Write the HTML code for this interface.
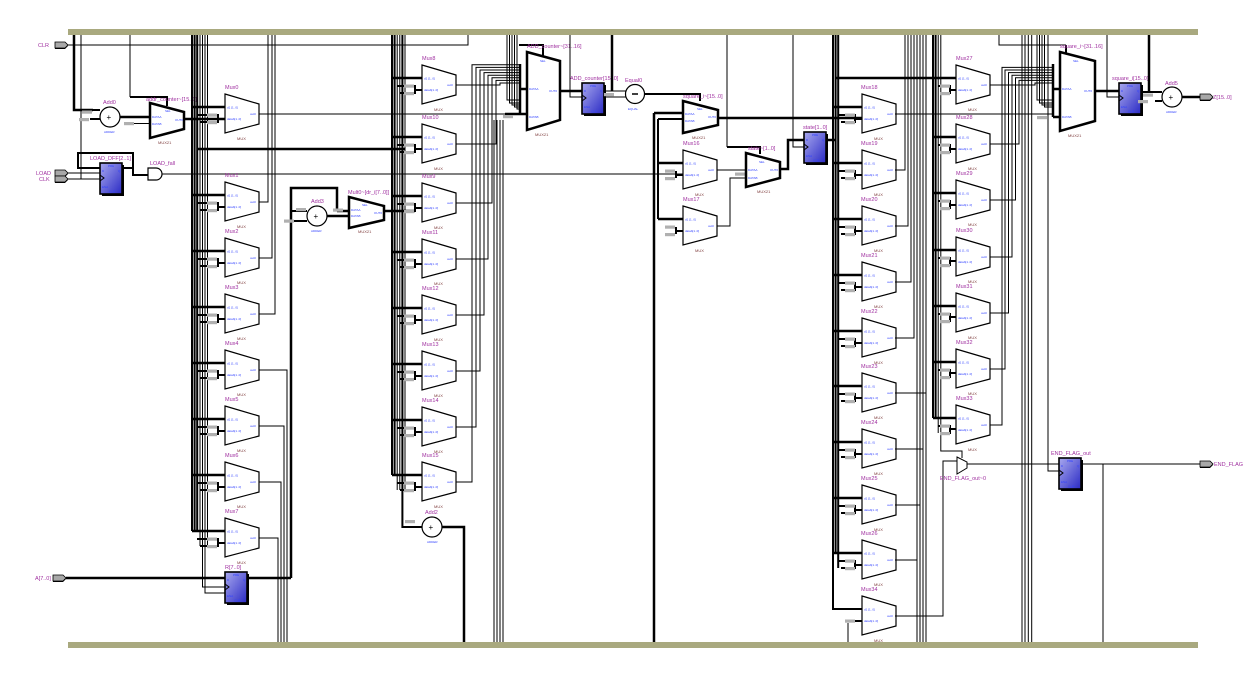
<!DOCTYPE html>
<html><head><meta charset="utf-8"><style>
html,body{margin:0;padding:0;background:#fff;}
svg{display:block}
.t{stroke:#000;stroke-width:2.5;fill:none}
.m{stroke:#000;stroke-width:2;fill:none}
.n{stroke:#000;stroke-width:1;fill:none}
.l{font-family:"Liberation Sans",sans-serif;font-size:5.5px;fill:#a030a0}
.s{font-family:"Liberation Sans",sans-serif;font-size:3px;fill:#3040ff}
.b{font-family:"Liberation Sans",sans-serif;font-size:4px;fill:#804040}
</style></head><body>
<svg width="1253" height="673" viewBox="0 0 1253 673" xmlns="http://www.w3.org/2000/svg">
<defs>
<linearGradient id="bg" x1="0" y1="0" x2="1" y2="1"><stop offset="0" stop-color="#a8a8ee"/><stop offset="1" stop-color="#2a2ac4"/></linearGradient>
<g id="mx"><polygon points="0,0 34,10 34,30 0,39" fill="#fff" stroke="#000" stroke-width="1.2"/><text class="s" x="2" y="14.5">d1 [1..0]</text><text class="s" x="2" y="26">datab[1..0]</text><text class="s" x="25" y="21">out0</text><text class="b" x="12" y="46">MUX</text></g>
<g id="rg"><rect x="2" y="2" width="22" height="31" fill="#000"/><rect width="22" height="31" fill="url(#bg)" stroke="#000" stroke-width="1.6"/><path d="M0,12 l4,3 l-4,3" fill="none" stroke="#000"/><text class="s" x="8" y="4">PRE</text><text class="s" x="2" y="9">D</text><text class="s" x="18" y="9">Q</text><text class="s" x="2" y="25">ENA</text><text class="s" x="9" y="29.5">CLR</text></g>
<g id="pt"><polygon points="0,-2 10,-2 13,1 10,4 0,4" fill="#000"/><polygon points="0,-3 10,-3 13,0 10,3 0,3" fill="#a8a8a8" stroke="#000" stroke-width="0.8"/></g>
<rect id="gb" width="10" height="3.2" fill="#b0b0b0"/>
</defs>
<rect width="1253" height="673" fill="#fff"/>

<!-- ===== LEFT AREA ===== -->
<use href="#pt" x="55" y="45"/><text class="l" x="38" y="47">CLR</text>
<use href="#pt" x="55" y="173"/><text class="l" x="36" y="175">LOAD</text>
<use href="#pt" x="55" y="179"/><text class="l" x="39" y="181">CLK</text>
<use href="#pt" x="53" y="578"/><text class="l" x="35" y="580">A[7..0]</text>
<path class="n" d="M68,45H468V35"/>
<path class="t" d="M74,35V110H93"/>
<path class="n" d="M81,35V179M68,179H100M68,173H100"/>
<use href="#rg" x="100" y="163"/><text class="l" x="90" y="160">LOAD_DFF[2..1]</text>
<path class="m" d="M100,168H78V153H133V175H148M122,168H133"/>
<path d="M148,168H156A6,6 0 0 1 156,180H148Z" fill="#fff" stroke="#000" stroke-width="1.2"/>
<text class="l" x="150" y="165">LOAD_fall</text>
<path class="n" d="M162,174H683"/>
<path class="n" d="M130,35V97"/><path class="m" d="M130,97H167V106"/>
<circle cx="110" cy="117" r="10" fill="#fff" stroke="#000" stroke-width="1.2"/><text x="106.5" y="120" font-family="Liberation Sans" font-size="8">+</text>
<text class="l" x="103" y="104">Add0</text><text class="s" x="104" y="133">ADDER</text>
<use href="#gb" x="82" y="110.5"/><use href="#gb" x="79" y="118"/>
<path class="m" d="M93,110H100M90,119H100"/>
<path class="t" d="M120,117H150"/>
<use href="#gb" x="124" y="122"/><path class="n" d="M134,123.5H150"/>
<polygon points="150,103 184,112 184,129 150,138" fill="#fff" stroke="#000" stroke-width="2.5"/>
<text class="s" x="165" y="112">SEL</text><text class="s" x="152" y="118">DATAA</text><text class="s" x="152" y="125">DATAB</text><text class="s" x="175" y="121">OUT0</text>
<text class="l" x="146" y="101">addr_counter~[15..0]</text><text class="b" x="158" y="144">MUX21</text>
<path class="t" d="M184,119H225"/>
<path class="t" d="M197,149H405"/>

<!-- column A bus -->
<path class="m" d="M192,35V531M194.6,35V531M197.2,35V531"/>
<path class="n" d="M200,35V546M207.5,35V546M202.5,35V587H225M205,35V593H225"/>

<!-- column A muxes -->
<use href="#mx" x="225" y="94"/><text class="l" x="225" y="89">Mux0</text>
<path class="t" d="M192,107H225"/><path class="m" d="M197,115H218V122H200M218,119H225"/><use href="#gb" x="207" y="113.5"/><use href="#gb" x="207" y="121"/>
<path class="n" d="M259,114H527"/>
<use href="#mx" x="225" y="182"/><text class="l" x="225" y="177">Mux1</text>
<path class="t" d="M192,195H225"/><path class="m" d="M197,203H218V210H200M218,207H225"/><use href="#gb" x="207" y="201.5"/><use href="#gb" x="207" y="209"/>
<path class="n" d="M259,202H268V35"/>
<use href="#mx" x="225" y="238"/><text class="l" x="225" y="233">Mux2</text>
<path class="t" d="M192,251H225"/><path class="m" d="M197,259H218V266H200M218,263H225"/><use href="#gb" x="207" y="257.5"/><use href="#gb" x="207" y="265"/>
<path class="n" d="M259,258H272V35"/>
<use href="#mx" x="225" y="294"/><text class="l" x="225" y="289">Mux3</text>
<path class="t" d="M192,307H225"/><path class="m" d="M197,315H218V322H200M218,319H225"/><use href="#gb" x="207" y="313.5"/><use href="#gb" x="207" y="321"/>
<path class="n" d="M259,314H275V35"/>
<use href="#mx" x="225" y="350"/><text class="l" x="225" y="345">Mux4</text>
<path class="t" d="M192,363H225"/><path class="m" d="M197,371H218V378H200M218,375H225"/><use href="#gb" x="207" y="369.5"/><use href="#gb" x="207" y="377"/>
<path class="n" d="M259,370H287V642"/>
<use href="#mx" x="225" y="406"/><text class="l" x="225" y="401">Mux5</text>
<path class="t" d="M192,419H225"/><path class="m" d="M197,427H218V434H200M218,431H225"/><use href="#gb" x="207" y="425.5"/><use href="#gb" x="207" y="433"/>
<path class="n" d="M259,426H284V642"/>
<use href="#mx" x="225" y="462"/><text class="l" x="225" y="457">Mux6</text>
<path class="t" d="M192,475H225"/><path class="m" d="M197,483H218V490H200M218,487H225"/><use href="#gb" x="207" y="481.5"/><use href="#gb" x="207" y="489"/>
<path class="n" d="M259,482H281V642"/>
<use href="#mx" x="225" y="518"/><text class="l" x="225" y="513">Mux7</text>
<path class="t" d="M192,531H225"/><path class="m" d="M197,539H218V546H200M218,543H225"/><use href="#gb" x="207" y="537.5"/><use href="#gb" x="207" y="545"/>
<path class="n" d="M259,538H278V642"/>

<!-- R register -->
<path class="t" d="M66,578H225M246,578H291"/>
<use href="#rg" x="225" y="572"/><text class="l" x="225" y="569">R[7..0]</text>

<!-- Add3 / mult area -->
<path class="t" d="M291,578V188H337V211"/>
<path class="m" d="M291,211H307"/>
<circle cx="317" cy="216" r="10" fill="#fff" stroke="#000" stroke-width="1.2"/><text x="313.5" y="219" font-family="Liberation Sans" font-size="8">+</text>
<text class="l" x="311" y="203">Add3</text><text class="s" x="311" y="232">ADDER</text>
<use href="#gb" x="296" y="208"/><use href="#gb" x="284" y="219.5"/>
<path class="m" d="M294,221H307"/>
<path class="t" d="M327,216H349M337,211H349"/><use href="#gb" x="333" y="208.5"/>
<polygon points="349,197 384,206 384,220 349,228" fill="#fff" stroke="#000" stroke-width="2.5"/>
<text class="s" x="362" y="206">SEL</text><text class="s" x="351" y="211">DATAA</text><text class="s" x="351" y="217">DATAB</text><text class="s" x="374" y="214">OUT0</text>
<text class="l" x="348" y="194">Mult0~[dr_i[7..0]]</text><text class="b" x="358" y="233">MUX21</text>
<path class="t" d="M384,211H415"/>

<!-- column B bus -->
<path class="m" d="M392,35V475M394.6,35V475"/>
<path class="n" d="M397.2,35V490M399.8,35V490M405,35V490"/>
<path class="m" d="M402.4,35V527H422"/>

<!-- column B muxes -->
<use href="#mx" x="422" y="65"/><text class="l" x="422" y="60">Mux8</text>
<path class="t" d="M392,78H422"/><path class="m" d="M397,86H415V93H400M415,90H422"/><use href="#gb" x="404" y="84.5"/><use href="#gb" x="404" y="92"/>
<path class="n" d="M456,85H500V83H520"/>
<use href="#mx" x="422" y="124"/><text class="l" x="422" y="119">Mux10</text>
<path class="t" d="M392,137H422"/><path class="m" d="M397,145H415V152H400M415,149H422"/><use href="#gb" x="404" y="143.5"/><use href="#gb" x="404" y="151"/>
<path class="n" d="M456,144H496V80.4H520"/>
<use href="#mx" x="422" y="183"/><text class="l" x="422" y="178">Mux9</text>
<path class="t" d="M392,196H422"/><path class="m" d="M397,204H415V211H400M415,208H422"/><use href="#gb" x="404" y="202.5"/><use href="#gb" x="404" y="210"/>
<path class="n" d="M456,203H492V77.8H520"/>
<use href="#mx" x="422" y="239"/><text class="l" x="422" y="234">Mux11</text>
<path class="t" d="M392,252H422"/><path class="m" d="M397,260H415V267H400M415,264H422"/><use href="#gb" x="404" y="258.5"/><use href="#gb" x="404" y="266"/>
<path class="n" d="M456,259H488V75.2H520"/>
<use href="#mx" x="422" y="295"/><text class="l" x="422" y="290">Mux12</text>
<path class="t" d="M392,308H422"/><path class="m" d="M397,316H415V323H400M415,320H422"/><use href="#gb" x="404" y="314.5"/><use href="#gb" x="404" y="322"/>
<path class="n" d="M456,315H484V72.6H520"/>
<use href="#mx" x="422" y="351"/><text class="l" x="422" y="346">Mux13</text>
<path class="t" d="M392,364H422"/><path class="m" d="M397,372H415V379H400M415,376H422"/><use href="#gb" x="404" y="370.5"/><use href="#gb" x="404" y="378"/>
<path class="n" d="M456,371H480V70H520"/>
<use href="#mx" x="422" y="407"/><text class="l" x="422" y="402">Mux14</text>
<path class="t" d="M392,420H422"/><path class="m" d="M397,428H415V435H400M415,432H422"/><use href="#gb" x="404" y="426.5"/><use href="#gb" x="404" y="434"/>
<path class="n" d="M456,427H476V67.4H520"/>
<use href="#mx" x="422" y="462"/><text class="l" x="422" y="457">Mux15</text>
<path class="t" d="M392,475H422"/><path class="m" d="M397,483H415V490H400M415,487H422"/><use href="#gb" x="404" y="481.5"/><use href="#gb" x="404" y="489"/>
<path class="n" d="M456,482H472V64.8H520"/>

<!-- Add2 -->
<use href="#gb" x="405" y="520"/>
<circle cx="432" cy="527" r="10" fill="#fff" stroke="#000" stroke-width="1.2"/><text x="428.5" y="530" font-family="Liberation Sans" font-size="8">+</text>
<text class="l" x="425" y="514">Add2</text><text class="s" x="427" y="543">ADDER</text>
<path class="t" d="M442,527H464V642"/>

<!-- staircase to ADD_counter big mux -->
<path class="n" d="M494,120V642M497,120V642M500,120V642M503,120V642"/>
<path class="n" d="M507,35V100H520M509.5,35V103H520M512,35V105H520M514.5,35V107H520M517,35V109H520"/>
<path class="t" d="M520,64V114"/>
<path class="t" d="M520,89H527M505,114H527"/><use href="#gb" x="503" y="115"/>
<path class="m" d="M519,45H543V56"/>
<polygon points="527,52 560,61 560,120 527,130" fill="#fff" stroke="#000" stroke-width="2.5"/>
<text class="s" x="540" y="62">SEL</text><text class="s" x="529" y="90">DATAA</text><text class="s" x="529" y="118">DATAB</text><text class="s" x="549" y="92">OUT0</text>
<text class="l" x="527" y="48">ADD_counter~[31..16]</text><text class="b" x="535" y="136">MUX21</text>
<path class="t" d="M560,91H582"/>
<path class="n" d="M570,35V97H582"/>
<use href="#rg" x="582" y="83"/><text class="l" x="570" y="80">ADD_counter[15..0]</text>
<path class="t" d="M612,35V91"/>
<path class="n" d="M603,91H626M603,97H626"/><use href="#gb" x="604" y="93"/>
<circle cx="635" cy="94" r="9.5" fill="#fff" stroke="#000" stroke-width="1.2"/><path d="M632,94H638" stroke="#000" stroke-width="1.5"/>
<text class="l" x="625" y="82">Equal0</text><text class="s" x="628" y="110">EQUAL</text>
<path class="m" d="M645,94H700V101"/>

<!-- column C -->
<path class="t" d="M654,113V642M654,113H683"/>
<path class="m" d="M658,119V219M658,119H683"/>
<polygon points="683,101 718,110 718,125 683,133" fill="#fff" stroke="#000" stroke-width="2.5"/>
<text class="s" x="697" y="110">SEL</text><text class="s" x="685" y="115">DATAA</text><text class="s" x="685" y="122">DATAB</text><text class="s" x="708" y="118">OUT0</text>
<text class="l" x="683" y="98">square_i~[15..0]</text><text class="b" x="692" y="139">MUX21</text>
<path class="t" d="M718,118H862"/>
<use href="#mx" x="683" y="150"/><text class="l" x="683" y="145">Mux16</text>
<path class="t" d="M658,163H683"/><path class="m" d="M676,171V178M676,175H683"/><use href="#gb" x="665" y="169.5"/><use href="#gb" x="665" y="177"/>
<use href="#mx" x="683" y="206"/><text class="l" x="683" y="201">Mux17</text>
<path class="t" d="M658,219H683"/><path class="m" d="M676,227V234M676,231H683"/><use href="#gb" x="665" y="225.5"/><use href="#gb" x="665" y="233"/>
<path class="n" d="M717,170H746M717,226H730V178H746"/><use href="#gb" x="735" y="172.5"/>
<path class="n" d="M727,35V147"/><path class="m" d="M727,147H760V154"/>
<polygon points="746,153 780,162 780,178 746,187" fill="#fff" stroke="#000" stroke-width="2.5"/>
<text class="s" x="759" y="163">SEL</text><text class="s" x="748" y="171">DATAA</text><text class="s" x="748" y="179">DATAB</text><text class="s" x="770" y="171">OUT0</text>
<text class="l" x="748" y="150">state~[1..0]</text><text class="b" x="757" y="193">MUX21</text>
<path class="t" d="M780,169H788V140H804"/>
<path class="n" d="M793,35V147H804"/>
<use href="#rg" x="804" y="132"/><text class="l" x="803" y="129">state[1..0]</text>
<path class="t" d="M826,140H835"/>

<!-- column D bus -->
<path class="m" d="M833,35V609H862M835.6,35V553M838.2,35V568"/>
<path class="t" d="M835,78H956"/>

<!-- column D muxes -->
<use href="#mx" x="862" y="94"/><text class="l" x="861" y="89">Mux18</text>
<path class="t" d="M833,107H862"/><path class="m" d="M838,115H855V122H841M855,119H862"/><use href="#gb" x="845" y="113.5"/><use href="#gb" x="845" y="121"/>
<path class="n" d="M895,114H1053"/>
<use href="#mx" x="862" y="150"/><text class="l" x="861" y="145">Mux19</text>
<path class="t" d="M833,163H862"/><path class="m" d="M838,171H855V178H841M855,175H862"/><use href="#gb" x="845" y="169.5"/><use href="#gb" x="845" y="177"/>
<path class="n" d="M895,170H905V35"/>
<use href="#mx" x="862" y="206"/><text class="l" x="861" y="201">Mux20</text>
<path class="t" d="M833,219H862"/><path class="m" d="M838,227H855V234H841M855,231H862"/><use href="#gb" x="845" y="225.5"/><use href="#gb" x="845" y="233"/>
<path class="n" d="M895,226H908V35"/>
<use href="#mx" x="862" y="262"/><text class="l" x="861" y="257">Mux21</text>
<path class="t" d="M833,275H862"/><path class="m" d="M838,283H855V290H841M855,287H862"/><use href="#gb" x="845" y="281.5"/><use href="#gb" x="845" y="289"/>
<path class="n" d="M895,282H911V35"/>
<use href="#mx" x="862" y="318"/><text class="l" x="861" y="313">Mux22</text>
<path class="t" d="M833,331H862"/><path class="m" d="M838,339H855V346H841M855,343H862"/><use href="#gb" x="845" y="337.5"/><use href="#gb" x="845" y="345"/>
<path class="n" d="M895,338H914V35"/>
<use href="#mx" x="862" y="373"/><text class="l" x="861" y="368">Mux23</text>
<path class="t" d="M833,386H862"/><path class="m" d="M838,394H855V401H841M855,398H862"/><use href="#gb" x="845" y="392.5"/><use href="#gb" x="845" y="400"/>
<path class="n" d="M895,393H926"/>
<use href="#mx" x="862" y="429"/><text class="l" x="861" y="424">Mux24</text>
<path class="t" d="M833,442H862"/><path class="m" d="M838,450H855V457H841M855,454H862"/><use href="#gb" x="845" y="448.5"/><use href="#gb" x="845" y="456"/>
<path class="n" d="M895,449H923"/>
<use href="#mx" x="862" y="485"/><text class="l" x="861" y="480">Mux25</text>
<path class="t" d="M833,498H862"/><path class="m" d="M838,506H855V513H841M855,510H862"/><use href="#gb" x="845" y="504.5"/><use href="#gb" x="845" y="512"/>
<path class="n" d="M895,505H920"/>
<use href="#mx" x="862" y="540"/><text class="l" x="861" y="535">Mux26</text>
<path class="t" d="M833,553H862"/><path class="m" d="M838,561H855V568H841M855,565H862"/><use href="#gb" x="845" y="559.5"/><use href="#gb" x="845" y="567"/>
<path class="n" d="M895,560H917"/>
<use href="#mx" x="862" y="596"/><text class="l" x="861" y="591">Mux34</text>
<path class="m" d="M855,621H862"/><use href="#gb" x="845" y="619.5"/><path class="n" d="M848,623V642"/>
<path class="n" d="M895,616H943V461H957"/>
<path class="n" d="M917,35V642M920,35V642M923,35V642M926,35V642"/>

<!-- column E bus -->
<path class="m" d="M933,35V418M935.6,35V418"/>
<path class="n" d="M938.2,35V433M940.8,35V451H962V458"/>

<!-- column E muxes -->
<use href="#mx" x="956" y="65"/><text class="l" x="956" y="60">Mux27</text>
<path class="m" d="M938,86H950V93H941M950,90H956"/><use href="#gb" x="940" y="84.5"/><use href="#gb" x="940" y="92"/>
<path class="n" d="M990,85H1035V83H1053"/>
<use href="#mx" x="956" y="124"/><text class="l" x="956" y="119">Mux28</text>
<path class="t" d="M933,137H956"/><path class="m" d="M938,145H950V152H941M950,149H956"/><use href="#gb" x="940" y="143.5"/><use href="#gb" x="940" y="151"/>
<path class="n" d="M990,144H1019V80.4H1053"/>
<use href="#mx" x="956" y="180"/><text class="l" x="956" y="175">Mux29</text>
<path class="t" d="M933,193H956"/><path class="m" d="M938,201H950V208H941M950,205H956"/><use href="#gb" x="940" y="199.5"/><use href="#gb" x="940" y="207"/>
<path class="n" d="M990,200H1015.5V77.8H1053"/>
<use href="#mx" x="956" y="237"/><text class="l" x="956" y="232">Mux30</text>
<path class="t" d="M933,250H956"/><path class="m" d="M938,258H950V265H941M950,261H956"/><use href="#gb" x="940" y="256.5"/><use href="#gb" x="940" y="264"/>
<path class="n" d="M990,257H1012V75.2H1053"/>
<use href="#mx" x="956" y="293"/><text class="l" x="956" y="288">Mux31</text>
<path class="t" d="M933,306H956"/><path class="m" d="M938,314H950V321H941M950,317H956"/><use href="#gb" x="940" y="312.5"/><use href="#gb" x="940" y="320"/>
<path class="n" d="M990,313H1008.5V72.6H1053"/>
<use href="#mx" x="956" y="349"/><text class="l" x="956" y="344">Mux32</text>
<path class="t" d="M933,362H956"/><path class="m" d="M938,370H950V377H941M950,373H956"/><use href="#gb" x="940" y="368.5"/><use href="#gb" x="940" y="376"/>
<path class="n" d="M990,369H1005V70H1053"/>
<use href="#mx" x="956" y="405"/><text class="l" x="956" y="400">Mux33</text>
<path class="t" d="M933,418H956"/><path class="m" d="M938,426H950V433H941M950,429H956"/><use href="#gb" x="940" y="424.5"/><use href="#gb" x="940" y="432"/>
<path class="n" d="M990,425H1002V67.4H1053"/>

<!-- square_i big mux -->
<path class="n" d="M1022,35V642M1025,35V642M1028.3,35V642M1031.7,35V642"/>
<path class="n" d="M1037,35V100H1053M1039.5,35V103H1053M1042,35V105H1053M1044.5,35V107H1053"/>
<path class="t" d="M1053,64V117"/>
<path class="t" d="M1053,89H1060M1053,117H1060"/><use href="#gb" x="1037" y="116"/>
<path class="n" d="M999,35V45H1066"/><path class="m" d="M1066,45V54"/>
<polygon points="1060,52 1095,61 1095,121 1060,131" fill="#fff" stroke="#000" stroke-width="2.5"/>
<text class="s" x="1073" y="62">SEL</text><text class="s" x="1062" y="90">DATAA</text><text class="s" x="1062" y="118">DATAB</text><text class="s" x="1084" y="92">OUT0</text>
<text class="l" x="1060" y="48">square_i~[31..16]</text><text class="b" x="1068" y="137">MUX21</text>
<path class="t" d="M1095,91H1119"/>
<path class="n" d="M1107,35V97H1119"/>
<use href="#rg" x="1119" y="83"/><text class="l" x="1112" y="80">square_i[15..0]</text>
<path class="t" d="M1149,35V92"/>
<path class="m" d="M1141,92H1162M1155,101H1162"/><use href="#gb" x="1143" y="93.5"/><use href="#gb" x="1138" y="100"/>
<circle cx="1172" cy="97" r="10" fill="#fff" stroke="#000" stroke-width="1.2"/><text x="1168.5" y="100" font-family="Liberation Sans" font-size="8">+</text>
<text class="l" x="1165" y="85">Add5</text><text class="s" x="1166" y="113">ADDER</text>
<path class="t" d="M1182,97H1200"/>
<use href="#pt" x="1200" y="97"/><text class="l" x="1213" y="99">Z[15..0]</text>

<!-- END_FLAG -->
<polygon points="957,457 967,462 967,468 957,474" fill="#fff" stroke="#000" stroke-width="1"/>
<text class="l" x="940" y="480">END_FLAG_out~0</text>
<path class="n" d="M967,464H1061"/>
<path class="n" d="M1048,35V471H1061"/>
<use href="#rg" x="1059" y="458"/><text class="l" x="1051" y="455">END_FLAG_out</text>
<path class="n" d="M1081,464H1200M1103,464V642"/>
<use href="#pt" x="1200" y="464"/><text class="l" x="1214" y="466">END_FLAG</text>

<!-- bars -->
<rect x="68" y="29" width="1130" height="6" fill="#a9a97f"/>
<rect x="68" y="642" width="1130" height="6" fill="#a9a97f"/>
</svg>
</body></html>
